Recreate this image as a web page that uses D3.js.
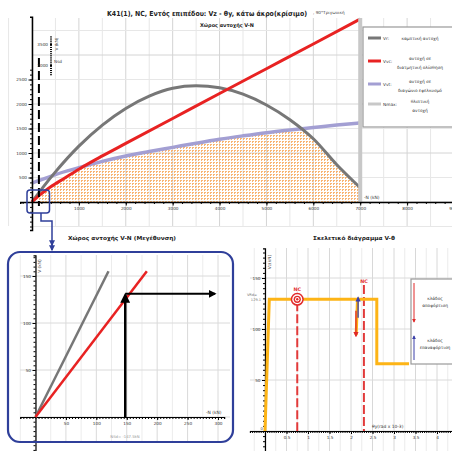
<!DOCTYPE html>
<html><head><meta charset="utf-8">
<script src="https://cdn.jsdelivr.net/npm/d3@7"></script>
<style>
body{margin:0;background:#fff}
svg{display:block}
text{font-family:"DejaVu Sans",Verdana,sans-serif}
</style>
</head><body>
<svg id="c" width="452" height="451"></svg>
<script>
// ---------- DATA ----------
// Main V-N resistance space (N in kN, V in kN)
const grayN = [0,120,250,500,1000,1500,2000,2500,3000,3500,4000,4500,5000,5500,6000,6500,7000];
const grayV = [0,155,320,615,1140,1570,1910,2160,2320,2370,2330,2200,1980,1680,1290,760,290];
const redN  = [0,183,400,700,1000,1500,2000,3000,4000,5000,6000,7000];
const redV  = [0,155,310,490,670,940,1195,1705,2215,2720,3225,3735];
const lavN  = [0,250,500,1000,1500,2000,2500,3000,3500,4000,4500,5000,5500,6000,6500,7000];
const lavV  = [385,470,560,700,830,940,1030,1115,1200,1280,1350,1415,1470,1520,1570,1615];
const Nmax = 7000;
const Nsd = 147.5;
const mainXTicks = [1000,2000,3000,4000,5000,6000,7000,8000,9000];
const mainYTicks = [500,1000,1500,2000,2500];
const strayYTicks = [3000,3500];
// Zoomed view
const zoomGray = [[0,0],[120,155]];
const zoomRed  = [[0,0],[183,155]];
const zoomPointV = 131;
const zoomXTicks = [50,100,150,200,250,300];
const zoomYTicks = [50,100,150];
// Skeleton V-theta
const skelTheta = [0,0.1,2.6,2.6,3.35];
const skelV     = [0,129.1,129.1,66,66];
const unlTheta  = [2.15,2.12];
const unlV      = [128,94];
const VRd = 129.1;
const ncTheta = [0.75, 2.3];
const skelXTicks = [0.5,1,1.5,2,2.5,3,3.5,4];
const skelYTicks = [50,100,150];
const legendItems = [
  {key:"Vr:",  lines:["καμπτική αντοχή"], color:"#777777", w:3},
  {key:"Vvc:", lines:["αντοχή σε","διατμητική ολίσθηση"], color:"#e82222", w:3},
  {key:"Vvt:", lines:["αντοχή σε","διαγώνιο εφελκυσμό"], color:"#a39fd3", w:3},
  {key:"Nmax:",lines:["θλιπτική","αντοχή"], color:"#c8c8c8", w:3}
];

// ---------- SETUP ----------
const svg = d3.select("#c");
const defs = svg.append("defs");
const pat = defs.append("pattern").attr("id","hatch").attr("patternUnits","userSpaceOnUse")
  .attr("width",3).attr("height",3);
pat.append("rect").attr("width",2).attr("height",1).attr("fill","#f7a85a").attr("opacity",0.85);
pat.append("rect").attr("y",1).attr("width",1).attr("height",1).attr("fill","#f7a85a").attr("opacity",0.85);

function marker(id,color){
  defs.append("marker").attr("id",id).attr("viewBox","0 0 10 10").attr("refX",8).attr("refY",5)
    .attr("markerWidth",4).attr("markerHeight",4).attr("orient","auto-start-reverse")
    .append("path").attr("d","M0,0L10,5L0,10z").attr("fill",color);
}
marker("mk","#000"); marker("mb","#2f3f9a"); marker("mr","#e02828"); marker("mbl","#3a3fa8");

const FS = 4.2;
function styleAxis(g, fs){
  g.selectAll("text").attr("font-size",fs||FS).attr("fill","#333");
  g.selectAll("line").attr("stroke","#000");
}

// ---------- MAIN CHART ----------
const xM = d3.scaleLinear().domain([0,9000]).range([32,454]);
const yM = d3.scaleLinear().domain([0,3750]).range([202,18.25]);

const gMain = svg.append("g");
// grid
for(let n=-500;n<=9000;n+=500){
  gMain.append("line").attr("x1",xM(n)).attr("x2",xM(n)).attr("y1",18).attr("y2",226)
    .attr("stroke", n%1000===0 ? "#d4d4d4" : "#e7e7e7").attr("stroke-width",1);
}
for(let v=-500;v<=3500;v+=500){
  gMain.append("line").attr("x1",32).attr("x2",452).attr("y1",yM(v)).attr("y2",yM(v))
    .attr("stroke", v%1000===0 ? "#d4d4d4" : "#e7e7e7").attr("stroke-width",1);
}

// envelope fill (min of the three resistances), from Nsd to Nmax
function interp(xs,ys,x){
  for(let i=1;i<xs.length;i++){ if(x<=xs[i]){ const t=(x-xs[i-1])/(xs[i]-xs[i-1]); return ys[i-1]+t*(ys[i]-ys[i-1]); } }
  return ys[ys.length-1];
}
const env = [];
for(let n=Nsd;n<=Nmax;n+=20){
  env.push([n, Math.min(interp(grayN,grayV,n),interp(redN,redV,n),interp(lavN,lavV,n))]);
}
env.push([Nmax, Math.min(interp(grayN,grayV,Nmax),interp(redN,redV,Nmax),interp(lavN,lavV,Nmax))]);
gMain.append("path").datum(env)
  .attr("d", d3.area().x(d=>xM(d[0])).y0(yM(0)).y1(d=>yM(d[1])))
  .attr("fill","url(#hatch)");

const lineM = d3.line().x(d=>xM(d[0])).y(d=>yM(d[1])).curve(d3.curveMonotoneX);
gMain.append("path").datum(lavN.map((n,i)=>[n,lavV[i]])).attr("d",lineM)
  .attr("fill","none").attr("stroke","#a39fd3").attr("stroke-width",3.5);
gMain.append("path").datum(grayN.map((n,i)=>[n,grayV[i]])).attr("d",lineM)
  .attr("fill","none").attr("stroke","#777").attr("stroke-width",3);
gMain.append("path").datum(redN.map((n,i)=>[n,redV[i]])).attr("d",lineM)
  .attr("fill","none").attr("stroke","#e82222").attr("stroke-width",3);

// Nmax line
gMain.append("line").attr("x1",xM(Nmax)).attr("x2",xM(Nmax)).attr("y1",18).attr("y2",yM(0))
  .attr("stroke","#c8c8c8").attr("stroke-width",4);
// Nsd dashed
gMain.append("line").attr("x1",xM(Nsd)).attr("x2",xM(Nsd)).attr("y1",58).attr("y2",206)
  .attr("stroke","#000").attr("stroke-width",2).attr("stroke-dasharray","9,4");

// main x axis
const xAxS = xM.copy().domain([-250,9000]).range([xM(-250),xM(9000)]);
const gxm = gMain.append("g").attr("transform",`translate(0,${yM(0)})`);
gxm.call(d3.axisBottom(xAxS).tickValues(d3.range(-200,9001,200)).tickSize(2).tickFormat(""));
gxm.append("g").call(d3.axisBottom(xAxS).tickValues(mainXTicks).tickSize(3.5).tickPadding(2).tickFormat(d3.format("d")))
  .select(".domain").remove();
gxm.select(".domain").attr("stroke","#000").attr("stroke-width",1.5);
styleAxis(gxm);
// main y axis
const yAxS = yM.copy().domain([-570,3780]).range([yM(-570),yM(3780)]);
const gym = gMain.append("g").attr("transform",`translate(${xM(0)},0)`);
gym.call(d3.axisLeft(yAxS).tickValues(d3.range(-500,2751,100)).tickSize(2).tickFormat(""));
gym.append("g").call(d3.axisLeft(yAxS).tickValues(mainYTicks).tickSize(3.5).tickPadding(1.5).tickFormat(d3.format("d")))
  .select(".domain").remove();
gym.select(".domain").attr("stroke","#000").attr("stroke-width",1.5);
styleAxis(gym);
// stray small axis
const yStray = d3.scaleLinear().domain([3000,3500]).range([65,44]);
const gst = gMain.append("g").attr("transform","translate(52,0)");
gst.call(d3.axisLeft(yStray).tickValues(d3.range(2780,3721,50)).tickSize(2).tickFormat(""));
gst.append("g").call(d3.axisLeft(yStray).tickValues(strayYTicks).tickSize(2).tickPadding(2).tickFormat(d3.format("d")))
  .select(".domain").remove();
gst.selectAll(".domain").remove();
styleAxis(gst);
gMain.append("text").attr("transform","translate(57.5,44) rotate(-90)").attr("text-anchor","middle")
  .attr("font-size",4.2).attr("fill","#444").text("V (kN)");
gMain.append("text").attr("x",54).attr("y",63).attr("font-size",4.2).attr("fill","#444").text("Nsd");
gMain.append("text").attr("x",364).attr("y",199).attr("font-size",4.4).attr("fill","#333").text("-N (kN)");

// titles
svg.append("text").attr("x",107).attr("y",15.5).attr("font-size",7).attr("font-weight","bold")
  .attr("textLength",200).attr("lengthAdjust","spacingAndGlyphs").attr("fill","#222")
  .text("K41(1), NC, Εντός επιπέδου: Vz - θy, κάτω άκρο(κρίσιμο)");
svg.append("text").attr("x",313).attr("y",13.5).attr("font-size",4.2).attr("fill","#444")
  .text(", 90°Τριγωνική");
svg.append("text").attr("x",227).attr("y",26.5).attr("font-size",5).attr("font-weight","bold")
  .attr("text-anchor","middle").attr("textLength",54).attr("lengthAdjust","spacingAndGlyphs")
  .attr("fill","#222").text("Χώρος αντοχής V-N");

// legend
const lg = svg.append("g");
lg.append("rect").attr("x",363).attr("y",27).attr("width",100).attr("height",100)
  .attr("fill","#fff").attr("stroke","#999").attr("stroke-width",1.2);
const lgY = [38,61,84,104];
legendItems.forEach((it,i)=>{
  const y = lgY[i];
  lg.append("line").attr("x1",368).attr("x2",381).attr("y1",y).attr("y2",y)
    .attr("stroke",it.color).attr("stroke-width",it.w);
  lg.append("text").attr("x",383).attr("y",y+1.5).attr("font-size",4.3).attr("fill","#333").text(it.key);
  it.lines.forEach((t,j)=>{
    const ty = it.lines.length===1 ? y+1.5 : y - 1 + j*9;
    lg.append("text").attr("x",420).attr("y",ty).attr("font-size",4.3).attr("text-anchor","middle")
      .attr("fill","#333").text(t);
  });
});

// blue small box & connector
svg.append("rect").attr("x",27).attr("y",190).attr("width",22.5).attr("height",23).attr("rx",3)
  .attr("fill","none").attr("stroke","#2f3f9a").attr("stroke-width",1.5);
svg.append("path").attr("d","M41,213V221H52V245").attr("fill","none")
  .attr("stroke","#2f3f9a").attr("stroke-width",1.5).attr("marker-end","url(#mb)");
svg.append("path").attr("d","M52,244V250").attr("fill","none")
  .attr("stroke","#2f3f9a").attr("stroke-width",1.5).attr("marker-end","url(#mb)");

// ---------- ZOOM CHART ----------
const xZ = d3.scaleLinear().domain([0,300]).range([35.5,218]);
const yZ = d3.scaleLinear().domain([0,150]).range([417,276]);
const gZ = svg.append("g");
defs.append("clipPath").attr("id","zclip").append("rect").attr("x",9).attr("y",253).attr("width",223).attr("height",188).attr("rx",11);
const gZg = gZ.append("g").attr("clip-path","url(#zclip)");
for(let n=-25;n<=325;n+=25){
  gZg.append("line").attr("x1",xZ(n)).attr("x2",xZ(n)).attr("y1",255).attr("y2",442)
    .attr("stroke", n%50===0 ? "#dadada" : "#ececec").attr("stroke-width",1);
}
for(let v=0;v<=150;v+=50){
  gZg.append("line").attr("x1",20).attr("x2",230).attr("y1",yZ(v)).attr("y2",yZ(v))
    .attr("stroke","#dadada").attr("stroke-width",1);
}
svg.append("text").attr("x",122).attr("y",239.5).attr("font-size",5.4).attr("font-weight","bold")
  .attr("text-anchor","middle").attr("textLength",108).attr("lengthAdjust","spacingAndGlyphs")
  .attr("fill","#222").text("Χώρος αντοχής V-N (Μεγέθυνση)");
const xZa = xZ.copy().domain([-25,310]).range([xZ(-25),xZ(310)]);
const gxz = gZ.append("g").attr("transform",`translate(0,${yZ(0)})`);
gxz.call(d3.axisBottom(xZa).tickValues(d3.range(-25,311,5)).tickSize(2).tickFormat(""));
gxz.append("g").call(d3.axisBottom(xZa).tickValues(zoomXTicks).tickSize(3).tickPadding(2).tickFormat(d3.format("d")))
  .select(".domain").remove();
gxz.select(".domain").attr("stroke","#000").attr("stroke-width",1.2);
styleAxis(gxz);
const yZa = yZ.copy().domain([-36,172]).range([yZ(-36),yZ(172)]);
const gyz = gZ.append("g").attr("transform",`translate(${xZ(0)},0)`);
gyz.call(d3.axisLeft(yZa).tickValues(d3.range(-35,171,5)).tickSize(2).tickFormat(""));
gyz.append("g").call(d3.axisLeft(yZa).tickValues(zoomYTicks).tickSize(3).tickPadding(1.5).tickFormat(d3.format("d")))
  .select(".domain").remove();
gyz.select(".domain").attr("stroke","#000").attr("stroke-width",1.2);
styleAxis(gyz);
gZ.append("text").attr("transform",`translate(${xZ(0)+5},266) rotate(-90)`).attr("text-anchor","middle")
  .attr("font-size",4.3).attr("fill","#444").text("V (kN)");
gZ.append("text").attr("x",206).attr("y",414).attr("font-size",4.4).attr("fill","#333").text("-N (kN)");
gZ.append("text").attr("x",125).attr("y",438).attr("font-size",3.8).attr("fill","#999").attr("text-anchor","middle")
  .text("NSd= -147.5kN");
const lineZ = d3.line().x(d=>xZ(d[0])).y(d=>yZ(d[1]));
gZ.append("path").datum(zoomGray).attr("d",lineZ).attr("stroke","#777").attr("stroke-width",2.5).attr("fill","none");
gZ.append("path").datum(zoomRed).attr("d",lineZ).attr("stroke","#e82222").attr("stroke-width",2.5).attr("fill","none");
gZ.append("line").attr("x1",xZ(Nsd)).attr("x2",xZ(Nsd)).attr("y1",yZ(0)).attr("y2",yZ(zoomPointV)+1)
  .attr("stroke","#000").attr("stroke-width",2.5).attr("marker-end","url(#mk)");
gZ.append("line").attr("x1",xZ(Nsd)).attr("x2",xZ(295)).attr("y1",yZ(zoomPointV)).attr("y2",yZ(zoomPointV))
  .attr("stroke","#000").attr("stroke-width",2).attr("marker-end","url(#mk)");
gZ.append("rect").attr("x",8).attr("y",252).attr("width",225).attr("height",190).attr("rx",12)
  .attr("fill","none").attr("stroke","#2f3f9a").attr("stroke-width",2.2);

// ---------- SKELETON CHART ----------
const xS = d3.scaleLinear().domain([0,4.5]).range([265,458.5]);
const yS = d3.scaleLinear().domain([0,160]).range([431,267.8]);
const gS = svg.append("g");
for(let t=-0.25;t<=4.5;t+=0.25){
  gS.append("line").attr("x1",xS(t)).attr("x2",xS(t)).attr("y1",248).attr("y2",451)
    .attr("stroke", Math.abs(t*2-Math.round(t*2))<1e-6 ? "#d8d8d8" : "#ebebeb").attr("stroke-width",1);
}
for(let v=0;v<=150;v+=50){
  gS.append("line").attr("x1",250).attr("x2",452).attr("y1",yS(v)).attr("y2",yS(v))
    .attr("stroke","#dadada").attr("stroke-width",1);
}
svg.append("text").attr("x",354).attr("y",239.5).attr("font-size",5.4).attr("font-weight","bold")
  .attr("text-anchor","middle").attr("textLength",82).attr("lengthAdjust","spacingAndGlyphs")
  .attr("fill","#222").text("Σκελετικό διάγραμμα V-θ");
const xSa = xS.copy().domain([-0.35,4.5]).range([xS(-0.35),xS(4.5)]);
const gxs = gS.append("g").attr("transform",`translate(0,${yS(0)})`);
gxs.call(d3.axisBottom(xSa).tickValues(d3.range(-0.3,4.51,0.05)).tickSize(2).tickFormat(""));
gxs.append("g").call(d3.axisBottom(xSa).tickValues(skelXTicks).tickSize(3).tickPadding(2).tickFormat(d=>String(d)))
  .select(".domain").remove();
gxs.select(".domain").attr("stroke","#000").attr("stroke-width",1.2);
styleAxis(gxs);
const ySa = yS.copy().domain([-20,179]).range([yS(-20),yS(179)]);
const gys = gS.append("g").attr("transform",`translate(${xS(0)},0)`);
gys.call(d3.axisLeft(ySa).tickValues(d3.range(-20,176,5)).tickSize(2).tickFormat(""));
gys.append("g").call(d3.axisLeft(ySa).tickValues(skelYTicks).tickSize(3).tickPadding(1.5).tickFormat(d3.format("d")))
  .select(".domain").remove();
gys.select(".domain").attr("stroke","#000").attr("stroke-width",1.2);
styleAxis(gys);
gS.append("text").attr("transform",`translate(${xS(0)+5.5},262) rotate(-90)`).attr("text-anchor","middle")
  .attr("font-size",4.3).attr("fill","#444").text("Vz(kN)");
gS.append("text").attr("x",xS(0)-2).attr("y",yS(0)-1).attr("font-size",3.8).attr("text-anchor","end").attr("fill","#444").text("0");
gS.append("text").attr("x",252).attr("y",yS(VRd)-3.5).attr("font-size",3.6).attr("text-anchor","middle").attr("fill","#777").text("VRd=");
gS.append("text").attr("x",256).attr("y",yS(VRd)+2).attr("font-size",3.6).attr("text-anchor","middle").attr("fill","#777").text("129.1");
gS.append("text").attr("x",372).attr("y",428).attr("font-size",4.4).attr("fill","#333").text("θy(rad x 10-3)");

// NC dashed lines
const ncTop = [yS(VRd)+3, 285];
ncTheta.forEach((t,i)=>{
  gS.append("line").attr("x1",xS(t)).attr("x2",xS(t)).attr("y1",ncTop[i]).attr("y2",yS(0))
    .attr("stroke","#e23a3a").attr("stroke-width",2).attr("stroke-dasharray","9,3");
});
// skeleton curve
const lineS = d3.line().x(d=>xS(d[0])).y(d=>yS(d[1]));
gS.append("path").datum(skelTheta.map((t,i)=>[t,skelV[i]])).attr("d",lineS)
  .attr("fill","none").attr("stroke","#fdb416").attr("stroke-width",3).attr("stroke-linejoin","miter");
gS.append("path").datum(unlTheta.map((t,i)=>[t,unlV[i]])).attr("d",lineS)
  .attr("fill","none").attr("stroke","#fdb416").attr("stroke-width",3);
// target symbol
const tx = xS(ncTheta[0]), ty = yS(VRd);
gS.append("circle").attr("cx",tx).attr("cy",ty).attr("r",6.5).attr("fill","#e22a2a");
gS.append("circle").attr("cx",tx).attr("cy",ty).attr("r",5).attr("fill","#fff");
gS.append("circle").attr("cx",tx).attr("cy",ty).attr("r",3.6).attr("fill","#e22a2a");
gS.append("circle").attr("cx",tx).attr("cy",ty).attr("r",2.2).attr("fill","#fff");
gS.append("circle").attr("cx",tx).attr("cy",ty).attr("r",1.2).attr("fill","#e22a2a");
gS.append("text").attr("x",tx).attr("y",ty-8).attr("font-size",4.8).attr("font-weight","bold")
  .attr("text-anchor","middle").attr("fill","#e22a2a").text("NC");
gS.append("text").attr("x",xS(ncTheta[1])).attr("y",283).attr("font-size",4.8).attr("font-weight","bold")
  .attr("text-anchor","middle").attr("fill","#e22a2a").text("NC");
// unloading arrows
gS.append("line").attr("x1",xS(2.165)).attr("x2",xS(2.165)).attr("y1",yS(111)).attr("y2",yS(131))
  .attr("stroke","#3a3fa8").attr("stroke-width",1.3).attr("marker-end","url(#mbl)");
gS.append("line").attr("x1",xS(2.115)).attr("x2",xS(2.115)).attr("y1",yS(118)).attr("y2",yS(93))
  .attr("stroke","#e02828").attr("stroke-width",1.3).attr("marker-end","url(#mr)");
// legend box
gS.append("rect").attr("x",411).attr("y",279).attr("width",50).attr("height",85)
  .attr("fill","#fff").attr("stroke","#999").attr("stroke-width",1.2);
gS.append("line").attr("x1",414).attr("x2",414).attr("y1",283).attr("y2",322)
  .attr("stroke","#e02828").attr("stroke-width",1).attr("marker-end","url(#mr)");
gS.append("line").attr("x1",414).attr("x2",414).attr("y1",360).attr("y2",336)
  .attr("stroke","#3a3fa8").attr("stroke-width",1).attr("marker-end","url(#mbl)");
[["κλάδος",300],["αποφόρτιση",307],["κλάδος",342],["επαναφόρτιση",349]].forEach(d=>{
  gS.append("text").attr("x",435).attr("y",d[1]).attr("font-size",4.3).attr("text-anchor","middle")
    .attr("fill","#333").text(d[0]);
});
</script>
</body></html>
